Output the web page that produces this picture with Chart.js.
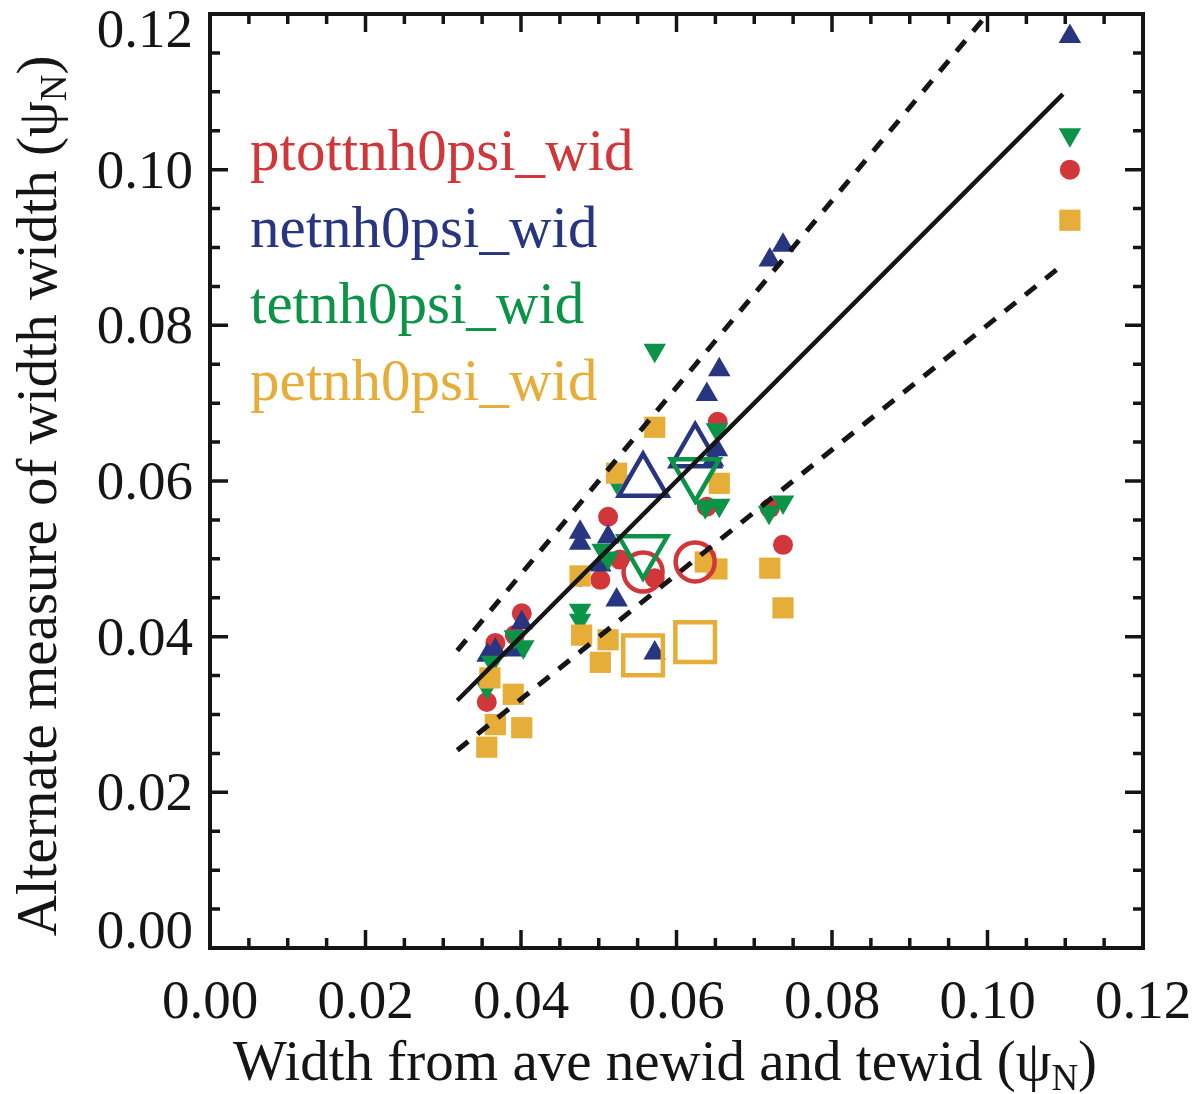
<!DOCTYPE html>
<html>
<head>
<meta charset="utf-8">
<script src="https://cdn.jsdelivr.net/npm/chart.js@4.4.1/dist/chart.umd.min.js"></script>
<style>
  html, body { margin: 0; background: #fff; }
  #wrap { width: 1197px; height: 1094px; position: relative; }
</style>
</head>
<body>
<div id="wrap"><canvas id="chart"></canvas></div>
<script>
const RED = '#d0363a', BLUE = '#283580', GREEN = '#0b9448', ORANGE = '#e7ad39';
const SERIF = '"Liberation Serif", "Times New Roman", serif';

const tickValues = [0, 0.02, 0.04, 0.06, 0.08, 0.10, 0.12];
const tickLabels = ['0.00', '0.02', '0.04', '0.06', '0.08', '0.10', '0.12'];
const minorStep = 0.005;

// ptottnh0psi_wid (filled circles)
const ptotX = [0.0356, 0.0367, 0.0392, 0.0401, 0.0476, 0.0502, 0.0512, 0.0527, 0.0572, 0.0639, 0.0653, 0.0720, 0.0737, 0.1106];
const ptotY = [0.0316, 0.0392, 0.0402, 0.0430, 0.0477, 0.0473, 0.0554, 0.0499, 0.0475, 0.0567, 0.0676, 0.0565, 0.0518, 0.1000];

// netnh0psi_wid (filled up triangles)
const neX = [0.0357, 0.0367, 0.0392, 0.0401, 0.0476, 0.0476, 0.0512, 0.0502, 0.0523, 0.0572, 0.0639, 0.0655, 0.0652, 0.0647, 0.0720, 0.0737, 0.1106];
const neY = [0.0376, 0.0383, 0.0383, 0.0418, 0.0534, 0.0520, 0.0528, 0.0492, 0.0447, 0.0379, 0.0711, 0.0743, 0.0640, 0.0627, 0.0884, 0.0903, 0.1171];

// tetnh0psi_wid (filled down triangles)
const teX = [0.0356, 0.0363, 0.0392, 0.0403, 0.0476, 0.0476, 0.0505, 0.0512, 0.0523, 0.0572, 0.0637, 0.0655, 0.0652, 0.0719, 0.0737, 0.1106];
const teY = [0.0335, 0.0367, 0.0400, 0.0387, 0.0434, 0.0421, 0.0511, 0.0501, 0.0599, 0.0768, 0.0567, 0.0569, 0.0666, 0.0560, 0.0573, 0.1045];

// petnh0psi_wid (filled squares)
const peX = [0.0356, 0.0360, 0.0367, 0.0390, 0.0401, 0.0476, 0.0478, 0.0502, 0.0512, 0.0523, 0.0572, 0.0637, 0.0652, 0.0655, 0.0720, 0.0737, 0.1106];
const peY = [0.0258, 0.0347, 0.0287, 0.0326, 0.0283, 0.0478, 0.0402, 0.0367, 0.0396, 0.0610, 0.0669, 0.0496, 0.0487, 0.0597, 0.0488, 0.0437, 0.0935];

// group means (open symbols)
const meanX = [0.0557, 0.0624];
const ptotMean = [0.0483, 0.0496];
const neMean = [0.0599, 0.0637];
const teMean = [0.0511, 0.0610];
const peMean = [0.0376, 0.0393];

// reference lines: y = x and +/-20%
const lineX = [0.0318, 0.1097];
const equalY = [0.0318, 0.1097];
const upperX = [0.0318, 0.1000];
const upperY = [0.0382, 0.1200];
const lowerY = [0.0254, 0.0878];

const pts = (xs, ys) => xs.map((x, i) => ({ x, y: ys[i] }));

function lineSet(xs, ys, dash) {
  return {
    type: 'line', data: pts(xs, ys), borderColor: '#151515', borderWidth: dash ? 5 : 4.5,
    borderDash: dash ? [14, 12] : [], pointRadius: 0, showLine: true, fill: false
  };
}

function filled(xs, ys, color, style, r, rot) {
  return {
    data: pts(xs, ys), pointStyle: style, pointRadius: r, pointRotation: rot || 0,
    backgroundColor: color, borderColor: color, pointBorderWidth: 0
  };
}

function open(xs, ys, color, style, r, rot) {
  return {
    data: pts(xs, ys), pointStyle: style, pointRadius: r, pointRotation: rot || 0,
    backgroundColor: 'rgba(0,0,0,0)', borderColor: color, pointBorderWidth: 4.5
  };
}

function drawSubTitle(ctx, main, x, y) {
  ctx.font = '57px ' + SERIF;
  const w1 = ctx.measureText(main).width;
  ctx.font = '37px ' + SERIF;
  const w2 = ctx.measureText('N').width;
  ctx.font = '57px ' + SERIF;
  const w3 = ctx.measureText(')').width;
  let sx = x - (w1 + w2 + w3) / 2;
  ctx.textAlign = 'left';
  ctx.textBaseline = 'alphabetic';
  ctx.fillText(main, sx, y);
  ctx.font = '37px ' + SERIF;
  ctx.fillText('N', sx + w1, y + 10);
  ctx.font = '57px ' + SERIF;
  ctx.fillText(')', sx + w1 + w2, y);
}

// frame, inward ticks, labels, titles and the coloured legend
const framePlugin = {
  id: 'frame',
  afterDraw(chart) {
    const { ctx, chartArea: a, scales: { x, y } } = chart;
    ctx.save();
    ctx.strokeStyle = '#151515';
    ctx.fillStyle = '#151515';
    ctx.lineWidth = 4;
    ctx.strokeRect(a.left, a.top, a.right - a.left, a.bottom - a.top);

    ctx.lineWidth = 3.5;
    for (let i = 0; i <= 24; i++) {
      const v = i * minorStep;
      const len = i % 4 === 0 ? 18 : 10;
      const px = x.getPixelForValue(v), py = y.getPixelForValue(v);
      ctx.beginPath();
      ctx.moveTo(px, a.bottom); ctx.lineTo(px, a.bottom - len);
      ctx.moveTo(px, a.top); ctx.lineTo(px, a.top + len);
      ctx.moveTo(a.left, py); ctx.lineTo(a.left + len, py);
      ctx.moveTo(a.right, py); ctx.lineTo(a.right - len, py);
      ctx.stroke();
    }

    ctx.font = '55px ' + SERIF;
    ctx.textBaseline = 'alphabetic';
    tickValues.forEach((v, i) => {
      ctx.textAlign = 'center';
      ctx.fillText(tickLabels[i], x.getPixelForValue(v), 1018);
      let py = y.getPixelForValue(v) + 18;
      if (i === 0) py = y.getPixelForValue(v);
      if (i === tickValues.length - 1) py = y.getPixelForValue(v) + 33;
      ctx.textAlign = 'right';
      ctx.fillText(tickLabels[i], 193, py);
    });

    drawSubTitle(ctx, 'Width from ave newid and tewid (\u03c8', 665, 1080);
    ctx.save();
    ctx.translate(56, 496);
    ctx.rotate(-Math.PI / 2);
    drawSubTitle(ctx, 'Alternate measure of width width (\u03c8', 0, 0);
    ctx.restore();

    ctx.font = '59px ' + SERIF;
    ctx.textAlign = 'left';
    [['ptottnh0psi_wid', RED, 170], ['netnh0psi_wid', BLUE, 247],
     ['tetnh0psi_wid', GREEN, 323], ['petnh0psi_wid', ORANGE, 400]].forEach(([t, c, by]) => {
      ctx.fillStyle = c;
      ctx.fillText(t, 250, by);
    });
    ctx.restore();
  }
};

new Chart(document.getElementById('chart'), {
  type: 'scatter',
  data: {
    datasets: [
      lineSet(lineX, equalY, false),
      lineSet(upperX, upperY, true),
      lineSet(lineX, lowerY, true),
      open(meanX, peMean, ORANGE, 'rect', 28),
      open(meanX, teMean, GREEN, 'triangle', 28, 180),
      open(meanX, neMean, BLUE, 'triangle', 28),
      open(meanX, ptotMean, RED, 'circle', 19.5),
      filled(peX, peY, ORANGE, 'rect', 15),
      filled(teX, teY, GREEN, 'triangle', 13, 180),
      filled(neX, neY, BLUE, 'triangle', 13),
      filled(ptotX, ptotY, RED, 'circle', 10)
    ]
  },
  options: {
    responsive: true,
    maintainAspectRatio: false,
    animation: false,
    events: [],
    layout: { autoPadding: false, padding: { left: 0, top: 14, right: 54, bottom: 0 } },
    plugins: { legend: { display: false }, tooltip: { enabled: false } },
    scales: {
      x: {
        type: 'linear', min: 0, max: 0.12,
        grid: { display: false }, border: { display: false },
        ticks: { display: false },
        afterFit: s => { s.height = 146; }
      },
      y: {
        type: 'linear', min: 0, max: 0.12,
        grid: { display: false }, border: { display: false },
        ticks: { display: false },
        afterFit: s => { s.width = 210; }
      }
    }
  },
  plugins: [framePlugin]
});
</script>
</body>
</html>
